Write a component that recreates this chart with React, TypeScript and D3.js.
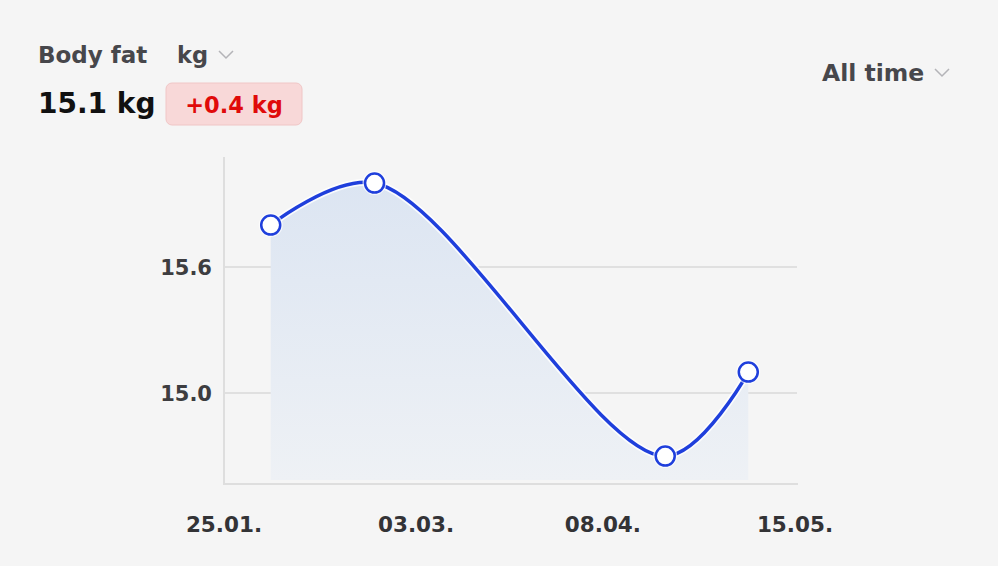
import React from "react";
import * as d3 from "d3";

const dates = ["2023-02-03", "2023-02-23", "2023-04-20", "2023-05-06"];
const values = [15.8, 16.0, 14.7, 15.1];
const xTickDates = ["2023-01-25", "2023-03-03", "2023-04-08", "2023-05-15"];
const xTickLabels = ["25.01.", "03.03.", "08.04.", "15.05."];
const yTicks = [15.0, 15.6];
const yTickLabels = ["15.0", "15.6"];
const title = "Body fat";
const unit = "kg";
const currentValue = "15.1 kg";
const deltaValue = "+0.4 kg";
const rangeLabel = "All time";

const W = 998;
const H = 566;
const FONT = "'DejaVu Sans', sans-serif";

export default function App() {
  const parse = d3.timeParse("%Y-%m-%d");
  const x = d3
    .scaleTime()
    .domain([parse("2023-01-25")!, parse("2023-05-15")!])
    .range([224, 795]);
  const y = d3.scaleLinear().domain([14.567, 16.124]).range([484, 157]);
  const pts = dates.map((d, i) => ({ x: x(parse(d)!), y: y(values[i]) }));
  const line = d3
    .line<{ x: number; y: number }>()
    .x((d) => d.x)
    .y((d) => d.y)
    .curve(d3.curveCatmullRom.alpha(0.5));
  const area = d3
    .area<{ x: number; y: number }>()
    .x((d) => d.x)
    .y0(480)
    .y1((d) => d.y)
    .curve(d3.curveCatmullRom.alpha(0.5));
  const chevron = (cx: number, cy: number) =>
    `M${cx - 7},${cy - 4} L${cx},${cy + 3} L${cx + 7},${cy - 4}`;

  return (
    <svg
      width={W}
      height={H}
      style={{ position: "absolute", left: 0, top: 0, background: "#f5f5f5" }}
      fontFamily={FONT}
    >
      <defs>
        <linearGradient id="fillGrad" x1="0" y1="0" x2="0" y2="1" gradientUnits="objectBoundingBox">
          <stop offset="0" stopColor="#dce5f2" />
          <stop offset="1" stopColor="#eef1f5" />
        </linearGradient>
      </defs>
      <rect x={0} y={0} width={W} height={H} fill="#f5f5f5" />

      {/* header */}
      <text x={38} y={63} fontSize={23} fontWeight={700} fill="#47474b">
        {title}
      </text>
      <text x={177} y={63} fontSize={22.5} fontWeight={700} fill="#47474b">
        {unit}
      </text>
      <path d={chevron(226, 55)} fill="none" stroke="#b4b4b8" strokeWidth={1.5} />
      <text x={38} y={113} fontSize={28} fontWeight={700} fill="#111">
        {currentValue}
      </text>
      <rect x={166} y={83} width={136} height={42} rx={6} fill="#f8d8d8" stroke="#f0c6c6" strokeWidth={1} />
      <text x={234} y={113} fontSize={22.5} fontWeight={700} fill="#e00a0a" textAnchor="middle">
        {deltaValue}
      </text>
      <text x={822} y={81} fontSize={23.5} fontWeight={700} fill="#47474b">
        {rangeLabel}
      </text>
      <path d={chevron(942, 73)} fill="none" stroke="#b4b4b8" strokeWidth={1.5} />

      {/* grid */}
      {yTicks.map((t, i) => (
        <g key={t}>
          <line x1={224} x2={797} y1={y(t)} y2={y(t)} stroke="#e0e0e0" strokeWidth={2} />
          <text x={212} y={y(t) + 8} fontSize={21} fontWeight={700} fill="#3d3d40" textAnchor="end">
            {yTickLabels[i]}
          </text>
        </g>
      ))}
      {/* axes */}
      <line x1={224} x2={224} y1={157} y2={485} stroke="#dedede" strokeWidth={2} />
      <line x1={223} x2={798} y1={484} y2={484} stroke="#dedede" strokeWidth={2} />
      {xTickDates.map((d, i) => (
        <text key={d} x={x(parse(d)!)} y={532} fontSize={21.5} fontWeight={700} fill="#333336" textAnchor="middle">
          {xTickLabels[i]}
        </text>
      ))}

      {/* area + line */}
      <path d={area(pts)!} fill="url(#fillGrad)" />
      <path d={line(pts)!} fill="none" stroke="#ffffff" strokeWidth={7} strokeOpacity={0.8} />
      <path d={line(pts)!} fill="none" stroke="#1f3fdc" strokeWidth={3.5} />
      {pts.map((p, i) => (
        <g key={i}>
          <circle cx={p.x} cy={p.y} r={12} fill="#ffffff" opacity={0.7} />
          <circle cx={p.x} cy={p.y} r={9.5} fill="#ffffff" stroke="#1f3fdc" strokeWidth={2.5} />
        </g>
      ))}
    </svg>
  );
}
